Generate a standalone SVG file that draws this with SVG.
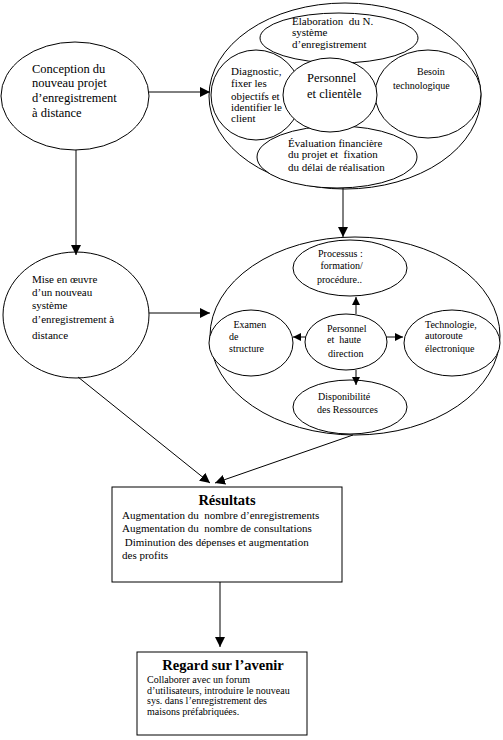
<svg xmlns="http://www.w3.org/2000/svg" width="503" height="740" viewBox="0 0 503 740">
<style>
.e{fill:none;stroke:#000;stroke-width:1}
.ew{fill:#fff;stroke:#000;stroke-width:1}
.c{fill:none;stroke:#000;stroke-width:1}
text{font-family:'Liberation Serif','Times New Roman',Times,serif;fill:#000}
.t13{font-size:12.5px}
.t11{font-size:11px}
.t10{font-size:10px}
.b{font-weight:bold;font-size:14.5px}
</style>
<defs>
<marker id="ah" markerWidth="10" markerHeight="10" refX="10" refY="5" orient="auto" markerUnits="userSpaceOnUse">
<path d="M0,0 L10,5 L0,10 Z" fill="#000"/>
</marker>
<marker id="as" markerWidth="8" markerHeight="8" refX="8" refY="4" orient="auto" markerUnits="userSpaceOnUse">
<path d="M0,0 L8,4 L0,8 Z" fill="#000"/>
</marker>
</defs>
<rect width="503" height="740" fill="#fff"/>

<g id="connectors">
<line class="c" x1="149" y1="92" x2="210" y2="92" marker-end="url(#ah)"/>
<line class="c" x1="76" y1="150" x2="76" y2="255" marker-end="url(#ah)"/>
<line class="c" x1="343" y1="188" x2="343" y2="237" marker-end="url(#ah)"/>
<line class="c" x1="149" y1="313" x2="210" y2="313" marker-end="url(#ah)"/>
<line class="c" x1="78" y1="377" x2="210" y2="483" marker-end="url(#ah)"/>
<line class="c" x1="353" y1="435" x2="215" y2="483" marker-end="url(#ah)"/>
<line class="c" x1="220" y1="582" x2="220" y2="647" marker-end="url(#ah)"/>
</g>

<g id="group1">
<ellipse class="e" cx="345" cy="96" rx="136" ry="93"/>
</g>
<g id="diagnostic">
<ellipse class="ew" cx="256" cy="95" rx="45" ry="45"/>
<text class="t11" x="231" y="75">Diagnostic,</text>
<text class="t11" x="231" y="87">fixer les</text>
<text class="t11" x="231" y="100">objectifs et</text>
<text class="t11" x="231" y="111">identifier le</text>
<text class="t11" x="231" y="122">client</text>
</g>
<g id="besoin">
<ellipse class="ew" cx="428" cy="94" rx="53" ry="44"/>
<text class="t10" x="417" y="75">Besoin</text>
<text class="t10" x="393" y="89">technologique</text>
</g>
<g id="elaboration">
<ellipse class="ew" cx="339" cy="38" rx="79" ry="25"/>
<text class="t11" x="292" y="25" xml:space="preserve">Elaboration  du N.</text>
<text class="t11" x="292" y="36">système</text>
<text class="t11" x="292" y="48">d’enregistrement</text>
</g>
<g id="evaluation">
<ellipse class="ew" cx="337" cy="157" rx="80" ry="31"/>
<text class="t11" x="288" y="147">Évaluation financière</text>
<text class="t11" x="288" y="158" xml:space="preserve">du projet et  fixation</text>
<text class="t11" x="288" y="171">du délai de réalisation</text>
</g>
<g id="personnel-clientele">
<ellipse class="ew" cx="330" cy="95" rx="47" ry="37"/>
<text class="t13" x="307" y="82">Personnel</text>
<text class="t13" x="307" y="98">et clientèle</text>
</g>

<g id="conception">
<ellipse class="e" cx="75" cy="96" rx="74" ry="54"/>
<text class="t13" x="32" y="73">Conception du</text>
<text class="t13" x="32" y="87">nouveau projet</text>
<text class="t13" x="32" y="102">d’enregistrement</text>
<text class="t13" x="32" y="117">à distance</text>
</g>

<g id="mise-en-oeuvre">
<ellipse class="e" cx="76" cy="315" rx="73" ry="63"/>
<text class="t11" x="32" y="283">Mise en œuvre</text>
<text class="t11" x="32" y="296">d’un nouveau</text>
<text class="t11" x="32" y="309">système</text>
<text class="t11" x="32" y="323">d’enregistrement à</text>
<text class="t11" x="32" y="339">distance</text>
</g>

<g id="group2">
<ellipse class="e" cx="355" cy="336" rx="145" ry="99"/>
</g>
<g id="processus">
<ellipse class="ew" cx="350" cy="268" rx="57" ry="28"/>
<text class="t10" x="318" y="257">Processus :</text>
<text class="t10" x="318" y="269" xml:space="preserve"> formation/</text>
<text class="t10" x="317" y="283">procédure..</text>
</g>
<g id="examen">
<ellipse class="ew" cx="251" cy="343" rx="42" ry="33"/>
<text class="t10" x="231" y="328" xml:space="preserve"> Examen</text>
<text class="t10" x="229" y="340">de</text>
<text class="t10" x="229" y="352">structure</text>
</g>
<g id="technologie">
<ellipse class="ew" cx="452" cy="343" rx="48" ry="33"/>
<text class="t10" x="425" y="328">Technologie,</text>
<text class="t10" x="425" y="339">autoroute</text>
<text class="t10" x="425" y="352">électronique</text>
</g>
<g id="disponibilite">
<ellipse class="ew" cx="350" cy="407" rx="57" ry="27"/>
<text class="t10" x="318" y="400">Disponibilité</text>
<text class="t10" x="317" y="413">des Ressources</text>
</g>
<g id="personnel-direction">
<ellipse class="ew" cx="346" cy="342" rx="41" ry="28"/>
<text class="t10" x="327" y="332">Personnel</text>
<text class="t10" x="327" y="343" xml:space="preserve">et  haute</text>
<text class="t10" x="328" y="357">direction</text>
</g>
<g id="inner-connectors">
<line class="c" x1="356" y1="314" x2="356" y2="297" marker-end="url(#as)"/>
<line class="c" x1="306" y1="337" x2="293" y2="337" marker-end="url(#as)"/>
<line class="c" x1="386" y1="337" x2="403" y2="337" marker-end="url(#as)"/>
<line class="c" x1="356" y1="370" x2="356" y2="385" marker-end="url(#as)"/>
</g>

<g id="resultats">
<rect class="ew" x="112" y="487" width="230" height="95"/>
<text class="b" x="227" y="505" text-anchor="middle">Résultats</text>
<text class="t11" x="122" y="519" xml:space="preserve">Augmentation du  nombre d’enregistrements</text>
<text class="t11" x="122" y="532" xml:space="preserve">Augmentation du  nombre de consultations</text>
<text class="t11" x="122" y="546" xml:space="preserve"> Diminution des dépenses et augmentation</text>
<text class="t11" x="122" y="559">des profits</text>
</g>

<g id="regard">
<rect class="ew" x="137" y="652" width="170" height="83"/>
<text class="b" x="223" y="670" text-anchor="middle">Regard sur l’avenir</text>
<text class="t10" x="147" y="683">Collaborer avec un forum</text>
<text class="t10" x="147" y="694">d’utilisateurs, introduire le nouveau</text>
<text class="t10" x="147" y="704">sys. dans l’enregistrement des</text>
<text class="t10" x="147" y="715">maisons préfabriquées.</text>
</g>
</svg>
